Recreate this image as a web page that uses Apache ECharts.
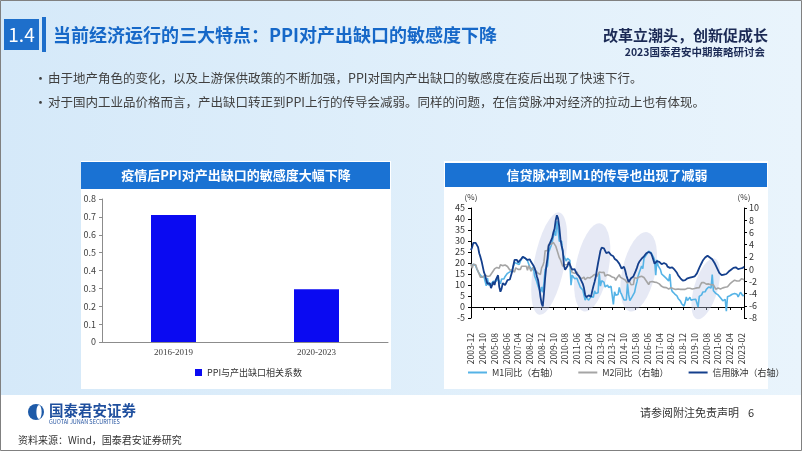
<!DOCTYPE html>
<html>
<head>
<meta charset="utf-8">
<script src="https://cdn.jsdelivr.net/npm/echarts@6/dist/echarts.min.js"></script>
<style>
  html, body { margin: 0; padding: 0; background: #fff; }
  #show { width: 802px; height: 452px; }
</style>
</head>
<body>
<div id="show"></div>
<script>
// 左图：PPI与产出缺口相关系数
var ppiCats = ['2016-2019', '2020-2023'];
var ppiCorr = [0.71, 0.295];

// 右图：月度数据 2003-12 起
var startYear = 2003, startMonth = 12;
var m1Yoy = [18.7,
  19.3,19.4,19.3,18.8,17.2,16.2,15.2,15.3,13.9,13.5,13.8,13.6,
  9.6,13.1,9.9,10.1,10.4,11.3,11.7,11.5,11.6,12.1,12.7,11.8,
  10.6,12.7,12.5,12.8,13.9,13.9,15.3,15.6,16.0,16.3,16.8,17.5,
  20.2,19.8,19.8,19.0,19.3,20.9,20.6,22.8,22.1,22.2,22.1,21.0,
  20.7,18.2,18.3,16.9,18.1,14.2,14.0,11.4,9.4,8.9,6.8,9.1,
  6.7,10.9,17.0,17.5,18.7,24.8,26.4,27.7,29.5,32.0,34.6,32.4,
  39.0,34.9,29.9,30.4,29.9,24.6,22.9,21.9,20.9,22.1,22.1,21.2,
  9.9,14.5,15.0,12.9,12.7,13.1,11.6,11.2,8.9,8.4,7.8,7.9,
  3.1,4.3,4.4,3.1,3.5,4.7,4.6,4.5,7.3,6.1,5.5,6.5,
  15.3,9.5,11.9,11.9,11.3,9.1,9.7,9.9,8.9,8.9,9.4,9.3,
  1.2,6.9,5.4,5.5,5.7,8.9,6.7,5.7,4.8,3.2,3.2,3.2,
  10.6,5.6,2.9,3.7,4.7,4.3,6.6,9.3,11.4,14.0,15.7,15.2,
  18.6,17.4,22.1,22.9,23.7,24.6,25.4,25.3,24.7,23.9,22.7,21.4,
  14.5,21.4,18.8,18.5,17.0,15.0,15.3,14.0,14.0,13.0,12.7,11.8,
  15.0,8.5,7.1,7.2,6.0,6.6,5.1,3.9,4.0,2.7,1.5,1.5,
  0.4,2.0,4.6,2.9,3.4,4.4,3.1,3.4,3.4,3.3,3.5,4.4,
  0.0,4.8,5.0,5.5,6.8,6.5,6.9,8.0,8.1,9.1,10.0,8.6,
  14.7,7.4,7.1,6.2,6.1,5.5,4.9,4.2,3.7,2.8,3.0,3.5,
  -1.9,4.7,4.7,5.1,4.6,5.8,6.7,6.1,6.4,5.8,4.6,3.7,
  6.7,5.8,5.1,5.3];
var m2Yoy = [19.6,
  17.6,19.4,19.1,19.2,17.5,16.2,15.3,13.6,13.9,13.5,14.0,14.6,
  14.1,13.9,14.0,14.1,14.6,15.7,16.3,17.3,17.9,18.0,18.3,17.6,
  19.2,18.8,18.8,18.9,19.1,18.4,18.4,17.9,16.8,17.1,16.8,16.9,
  15.9,17.8,17.3,17.1,16.7,17.1,18.5,18.1,18.5,18.5,18.5,16.7,
  18.9,17.5,16.3,16.9,18.1,17.4,16.4,16.0,15.3,15.0,14.8,17.8,
  18.8,20.5,25.5,26.0,25.7,28.5,28.4,28.5,29.3,29.4,29.7,27.7,
  26.0,25.5,22.5,21.5,21.0,18.5,17.6,19.2,19.0,19.3,19.5,19.7,
  17.2,15.7,16.6,15.3,15.1,15.9,14.7,13.5,13.0,12.9,12.7,13.6,
  12.4,13.0,13.4,12.8,13.2,13.6,13.9,13.5,14.8,14.1,13.9,13.8,
  15.9,15.2,15.7,16.1,15.8,14.0,14.5,14.7,14.2,14.3,14.2,13.6,
  13.2,13.3,12.1,13.2,13.4,14.7,13.5,12.8,12.9,12.6,12.3,12.2,
  10.8,12.5,11.6,10.1,10.8,10.2,13.3,13.3,13.1,13.5,13.7,13.3,
  14.0,13.3,13.4,12.8,11.8,11.8,10.2,11.4,11.5,11.6,11.4,11.3,
  11.3,11.1,10.6,10.5,9.6,9.4,9.2,8.9,9.2,8.8,9.1,8.2,
  8.6,8.8,8.2,8.3,8.3,8.0,8.5,8.2,8.3,8.0,8.0,8.1,
  8.4,8.0,8.6,8.5,8.5,8.5,8.1,8.2,8.4,8.4,8.2,8.7,
  8.4,8.8,10.1,11.1,11.1,11.1,10.7,10.4,10.9,10.5,10.7,10.1,
  9.4,10.1,9.4,8.1,8.3,8.6,8.3,8.2,8.3,8.7,8.5,9.0,
  9.8,9.2,9.7,10.5,11.1,11.4,12.0,12.2,12.1,11.8,12.4,11.8,
  12.6,12.9,12.7,12.4];
var creditImpulse = [3.1,
  3.6,4.3,4.5,4.3,4.0,3.6,2.6,2.0,1.3,0.4,-0.5,-1.0,
  -1.8,-2.4,-2.6,-2.3,-3.1,-2.8,-2.1,-2.6,-1.8,-1.4,-1.0,-2.9,
  -3.7,-3.2,-2.3,-2.0,-2.6,-2.2,-1.8,-2.1,-1.7,-1.5,-0.4,0.6,
  1.5,1.2,1.5,1.1,0.9,1.5,1.8,2.0,2.1,1.8,1.6,1.5,
  1.8,1.6,1.2,0.9,0.6,0.2,-0.4,-1.2,-1.8,-3.0,-4.5,-5.6,
  -6.1,-4.0,-1.5,0.5,1.8,3.8,4.2,4.1,5.1,6.0,6.6,8.0,
  8.8,8.3,6.9,4.9,3.8,3.0,0.6,-0.1,0.1,0.5,1.2,0.9,
  0.3,-0.1,0.2,0.0,-0.4,-0.8,-1.0,-1.2,-1.6,-2.0,-2.4,-3.1,
  -4.2,-4.6,-4.8,-4.3,-4.2,-4.5,-3.6,-2.8,-2.1,-1.3,-0.1,1.0,
  2.0,3.0,3.5,3.7,3.4,3.0,2.6,2.9,2.8,2.7,2.3,2.0,
  2.1,1.7,1.5,1.4,1.2,0.9,0.5,0.1,0.3,0.4,-0.2,-1.0,
  -1.6,-2.1,-2.3,-1.5,-1.7,-1.2,-0.9,-0.3,0.2,0.8,1.2,1.4,
  1.7,2.0,2.1,2.4,2.6,2.5,2.8,3.0,2.6,2.1,1.5,0.9,
  1.1,1.3,1.0,1.2,1.1,0.8,0.9,1.0,0.7,0.8,0.4,0.5,
  0.2,0.4,0.3,0.0,-0.1,-0.4,-0.6,-1.0,-1.1,-1.5,-1.8,-1.9,
  -2.0,-1.8,-1.6,-1.5,-1.7,-1.4,-1.5,-1.3,-1.5,-1.2,-1.0,-0.7,
  -0.4,0.2,0.6,1.0,1.4,1.7,1.9,2.1,2.2,2.0,1.9,1.8,
  1.6,1.3,1.0,0.6,0.2,-0.2,-0.6,-0.9,-1.0,-0.7,-0.9,-1.0,
  -0.8,-0.6,-0.4,-0.5,-0.1,0.1,0.2,0.4,0.3,0.2,0.0,-0.2,
  0.1,0.3,0.2,0.4];

// 阴影区：[顶部月份, 顶部值, 底部月份, 底部值, 半宽(月)]
var highlights = [
  ['2010-03', 43, '2008-10', -3.5, 13],
  ['2013-02', 38, '2011-12', -2, 14],
  ['2016-06', 34, '2015-03', -2, 14],
  ['2021-03', 22, '2019-12', -5.5, 10]
];

var months = [];
for (var k = 0; k < m1Yoy.length; k++) {
  var t = startYear * 12 + (startMonth - 1) + k;
  var mm = t % 12 + 1;
  months.push(Math.floor(t / 12) + '-' + (mm < 10 ? '0' + mm : mm));
}
var hlData = highlights.map(function (h) {
  return [months.indexOf(h[0]), h[1], months.indexOf(h[2]), h[3], h[4]];
});

var FONT = "'Noto Sans CJK SC', 'Noto Sans', sans-serif";

function txt(x, y, s, size, color, opt) {
  opt = opt || {};
  return {
    type: 'text', x: x, y: y, z: 5,
    style: {
      text: s, fill: color,
      font: (opt.weight || 'normal') + ' ' + size + 'px ' + (opt.family || FONT),
      textAlign: opt.align || 'left', textVerticalAlign: 'middle'
    }
  };
}

var graphics = [
  { type: 'rect', z: -10, shape: { x: 0, y: 0, width: 802, height: 395 },
    style: { fill: { type: 'linear', x: 0, y: 0, x2: 1, y2: 0,
      colorStops: [{ offset: 0, color: '#d5e9f9' }, { offset: 1, color: '#e9f4fc' }] } } },
  { type: 'rect', z: -10, shape: { x: 0, y: 395, width: 802, height: 57 }, style: { fill: '#ffffff' } },
  { type: 'rect', z: 6, shape: { x: 0.5, y: 0.5, width: 801, height: 450 }, style: { fill: 'none', stroke: '#808080', lineWidth: 1 } },
  // 标题
  { type: 'rect', z: -5, shape: { x: 4, y: 19, width: 35, height: 31 }, style: { fill: '#1e6fcb' } },
  { type: 'rect', z: -5, shape: { x: 42, y: 17, width: 4, height: 35 }, style: { fill: '#1e6fcb' } },
  txt(21.5, 35, '1.4', 19, '#ffffff', { align: 'center' }),
  txt(53, 35, '当前经济运行的三大特点：PPI对产出缺口的敏感度下降', 18, '#1668c8', { weight: 'bold' }),
  txt(768, 35, '改革立潮头，创新促成长', 15, '#1b2a55', { align: 'right', weight: 'bold' }),
  txt(765, 52, '2023国泰君安中期策略研讨会', 10.5, '#1b2a55', { align: 'right', weight: 'bold' }),
  txt(34, 78, '•', 13, '#404040'),
  txt(48, 78, '由于地产角色的变化，以及上游保供政策的不断加强，PPI对国内产出缺口的敏感度在疫后出现了快速下行。', 12.5, '#404040'),
  txt(34, 102, '•', 13, '#404040'),
  txt(48, 102, '对于国内工业品价格而言，产出缺口转正到PPI上行的传导会减弱。同样的问题，在信贷脉冲对经济的拉动上也有体现。', 12.5, '#404040'),
  // 面板
  { type: 'rect', z: -8, shape: { x: 81, y: 161, width: 310, height: 228 }, style: { fill: '#ffffff' } },
  { type: 'rect', z: -7, shape: { x: 81, y: 162, width: 309, height: 27 }, style: { fill: '#1a72d3' } },
  txt(236, 175.5, '疫情后PPI对产出缺口的敏感度大幅下降', 13, '#ffffff', { weight: 'bold', align: 'center' }),
  { type: 'rect', z: -8, shape: { x: 444, y: 161, width: 324, height: 228 }, style: { fill: '#ffffff' } },
  { type: 'rect', z: -7, shape: { x: 445, y: 163, width: 322, height: 24 }, style: { fill: '#1a72d3' } },
  txt(607, 175.5, '信贷脉冲到M1的传导也出现了减弱', 13, '#ffffff', { weight: 'bold', align: 'center' }),
  // 页脚
  { type: 'circle', z: 5, shape: { cx: 36, cy: 412, r: 8 }, style: { fill: '#1d5aa8' } },
  { type: 'ellipse', z: 5, shape: { cx: 39, cy: 412, rx: 2.6, ry: 7 }, style: { fill: '#ffffff' } },
  txt(49, 410, '国泰君安证券', 14.5, '#1f4f9e', { weight: 'bold' }),
  txt(49, 422, 'GUOTAI JUNAN SECURITIES', 5.5, '#1f4f9e'),
  txt(640, 413, '请参阅附注免责声明', 11, '#333333'),
  txt(748, 413, '6', 11, '#333333'),
  txt(18, 440, '资料来源：Wind，国泰君安证券研究', 10, '#333333')
];

var myChart = echarts.init(document.getElementById('show'));
myChart.setOption({
  animation: false,
  textStyle: { fontFamily: FONT },
  graphic: graphics,
  legend: [{
    left: 190, top: 363, itemWidth: 7, itemHeight: 7, icon: 'rect',
    data: ['PPI与产出缺口相关系数'],
    textStyle: { fontSize: 9, color: '#333' }
  }, {
    left: 463, top: 363, itemWidth: 19, itemHeight: 2, icon: 'rect', itemGap: 20,
    data: ['M1同比（右轴）', 'M2同比（右轴）', '信用脉冲（右轴）'],
    textStyle: { fontSize: 9, color: '#333' }
  }],
  grid: [
    { left: 102, right: 414, top: 199, bottom: 110 },
    { left: 471, right: 58, top: 208, bottom: 134 }
  ],
  xAxis: [{
    gridIndex: 0, type: 'category', data: ppiCats,
    axisLine: { lineStyle: { color: '#8c8c8c' } },
    axisTick: { show: false },
    axisLabel: { color: '#404040', fontSize: 9, fontFamily: "'Liberation Serif', serif", margin: 6 }
  }, {
    gridIndex: 1, type: 'category', data: months, boundaryGap: false,
    axisLine: { onZero: true, onZeroAxisIndex: 1, lineStyle: { color: '#000', width: 1 } },
    axisTick: { interval: 9, length: 3, lineStyle: { color: '#000' } },
    axisLabel: { interval: 9, rotate: 90, fontSize: 8.5, color: '#333', margin: 15 }
  }],
  yAxis: [{
    gridIndex: 0, type: 'value', min: 0, max: 0.8, interval: 0.1,
    axisLine: { show: true, lineStyle: { color: '#8c8c8c' } },
    axisTick: { show: true, length: 3, lineStyle: { color: '#8c8c8c' } },
    splitLine: { show: false },
    axisLabel: { color: '#404040', fontSize: 9, margin: 6 }
  }, {
    gridIndex: 1, type: 'value', min: -5, max: 45, interval: 5, position: 'left',
    name: '(%)', nameGap: 7, nameTextStyle: { fontSize: 8, color: '#333' },
    axisLine: { show: true, lineStyle: { color: '#000' } },
    axisTick: { show: true, length: 3, lineStyle: { color: '#000' } },
    splitLine: { show: false },
    axisLabel: { color: '#333', fontSize: 9, margin: 6 }
  }, {
    gridIndex: 1, type: 'value', min: -8, max: 10, interval: 2, position: 'right',
    name: '(%)', nameGap: 7, nameTextStyle: { fontSize: 8, color: '#333' },
    axisLine: { show: true, lineStyle: { color: '#000' } },
    axisTick: { show: true, length: 3, lineStyle: { color: '#000' } },
    splitLine: { show: false },
    axisLabel: { color: '#333', fontSize: 9, margin: 5 }
  }],
  series: [{
    name: 'PPI与产出缺口相关系数', type: 'bar', xAxisIndex: 0, yAxisIndex: 0,
    data: ppiCorr, barWidth: 45, itemStyle: { color: '#0a0af2' }
  }, {
    type: 'custom', xAxisIndex: 1, yAxisIndex: 1, silent: true, z: 1,
    data: hlData,
    encode: { x: [0, 2], y: [1, 3] },
    renderItem: function (params, api) {
      var top = api.coord([api.value(0), api.value(1)]);
      var bot = api.coord([api.value(2), api.value(3)]);
      var w = Math.abs(api.coord([api.value(0) + api.value(4), api.value(1)])[0] - top[0]);
      var dx = top[0] - bot[0], dy = top[1] - bot[1];
      var len = Math.sqrt(dx * dx + dy * dy) / 2;
      return {
        type: 'circle',
        shape: { cx: 0, cy: 0, r: 1 },
        x: (top[0] + bot[0]) / 2, y: (top[1] + bot[1]) / 2,
        scaleX: w, scaleY: len, rotation: Math.atan2(-dx, -dy),
        style: { fill: 'rgba(188,198,228,0.38)' }
      };
    }
  }, {
    name: 'M1同比（右轴）', type: 'line', xAxisIndex: 1, yAxisIndex: 1,
    data: m1Yoy, symbol: 'none', lineStyle: { color: '#55b3e6', width: 1.6 }, itemStyle: { color: '#55b3e6' }
  }, {
    name: 'M2同比（右轴）', type: 'line', xAxisIndex: 1, yAxisIndex: 1,
    data: m2Yoy, symbol: 'none', lineStyle: { color: '#a5a5a5', width: 1.6 }, itemStyle: { color: '#a5a5a5' }
  }, {
    name: '信用脉冲（右轴）', type: 'line', xAxisIndex: 1, yAxisIndex: 2,
    data: creditImpulse, symbol: 'none', lineStyle: { color: '#143f8c', width: 1.8 }, itemStyle: { color: '#143f8c' }
  }]
});
window.onresize = function () { myChart.resize(); };
</script>
</body>
</html>
